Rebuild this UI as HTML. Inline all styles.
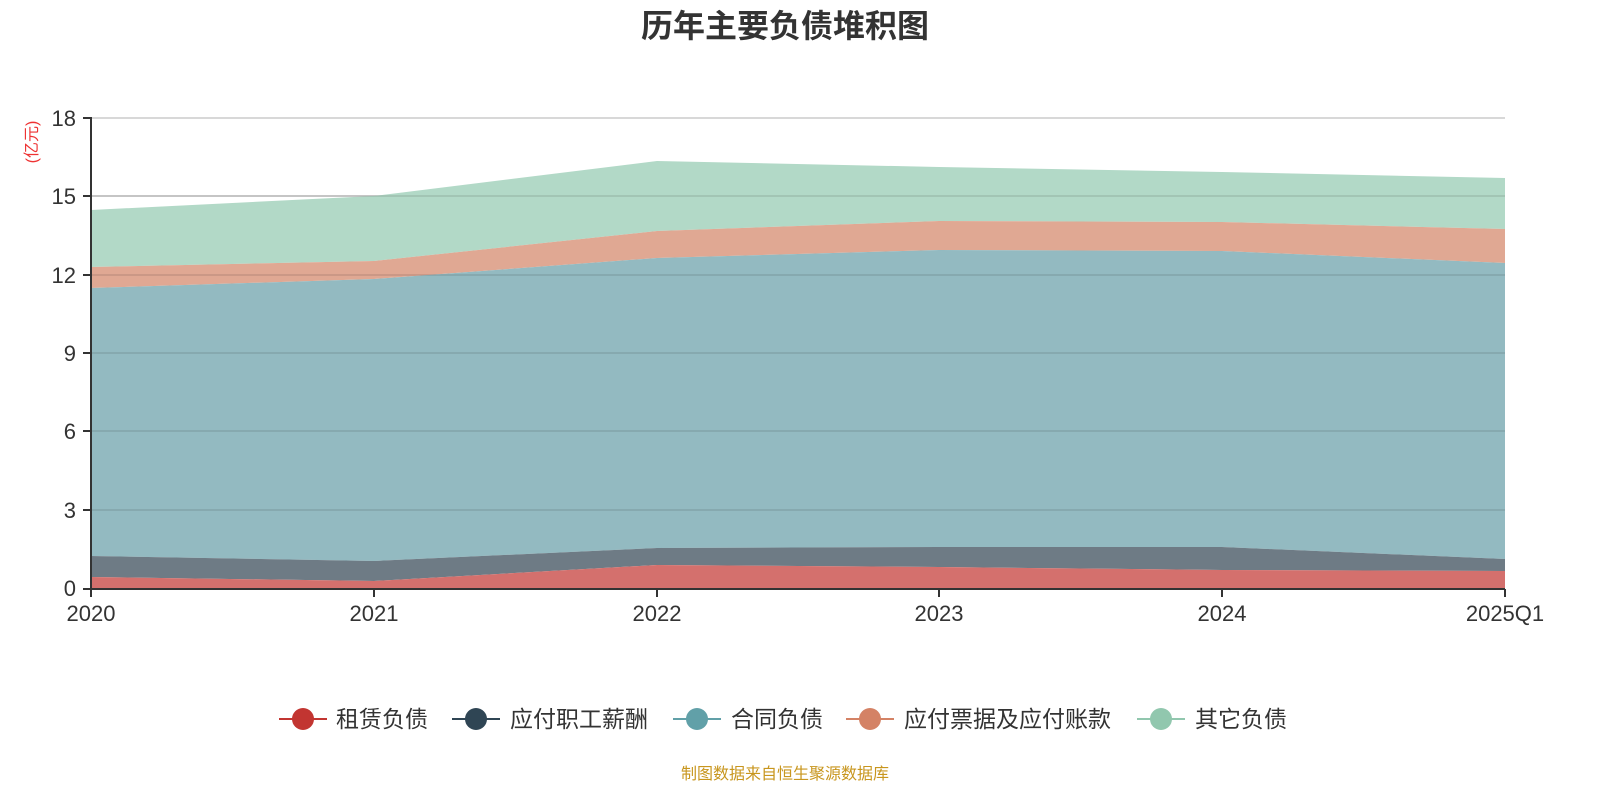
<!DOCTYPE html>
<html><head><meta charset="utf-8"><style>
body{margin:0;background:#fff;overflow:hidden;}
svg{display:block;}
svg text{font-family:"Liberation Sans","Noto Sans CJK SC",sans-serif;}
</style></head><body>
<svg width="1600" height="800" xmlns="http://www.w3.org/2000/svg">
<rect width="1600" height="800" fill="#fff"/>
<text x="785" y="37" text-anchor="middle" font-size="32" font-weight="bold" fill="#333">历年主要负债堆积图</text>
<text transform="translate(37,142) rotate(-90)" text-anchor="middle" font-size="16" fill="#e33">(亿元)</text>
<g stroke="#ccc" stroke-width="1.5">
<line x1="91" y1="118" x2="1505" y2="118"/><line x1="91" y1="196" x2="1505" y2="196"/><line x1="91" y1="275" x2="1505" y2="275"/><line x1="91" y1="353" x2="1505" y2="353"/><line x1="91" y1="431" x2="1505" y2="431"/><line x1="91" y1="510" x2="1505" y2="510"/>
</g>
<polygon fill="#b2d9c7" points="91,210 374,196 657,161 939,167 1222,172 1505,178 1505,229 1222,222 939,221 657,231 374,261 91,267"/>
<polygon fill="#e0a893" points="91,267 374,261 657,231 939,221 1222,222 1505,229 1505,263 1222,251 939,250 657,258 374,279 91,288"/>
<polygon fill="#93bac1" points="91,288 374,279 657,258 939,250 1222,251 1505,263 1505,559 1222,547 939,547 657,548 374,561 91,556"/>
<polygon fill="#6e7b85" points="91,556 374,561 657,548 939,547 1222,547 1505,559 1505,571 1222,570 939,567 657,565 374,581 91,577"/>
<polygon fill="#d4706d" points="91,577 374,581 657,565 939,567 1222,570 1505,571 1505,588 91,588"/>
<g stroke="#000" stroke-opacity="0.12" stroke-width="1.5">
<line x1="91" y1="196" x2="1505" y2="196"/><line x1="91" y1="275" x2="1505" y2="275"/><line x1="91" y1="353" x2="1505" y2="353"/><line x1="91" y1="431" x2="1505" y2="431"/><line x1="91" y1="510" x2="1505" y2="510"/>
</g>
<g stroke="#333" stroke-width="2">
<line x1="91" y1="117" x2="91" y2="589"/><line x1="90" y1="589" x2="1505" y2="589"/>
<line x1="83" y1="118" x2="91" y2="118"/><line x1="83" y1="196" x2="91" y2="196"/><line x1="83" y1="275" x2="91" y2="275"/><line x1="83" y1="353" x2="91" y2="353"/><line x1="83" y1="431" x2="91" y2="431"/><line x1="83" y1="510" x2="91" y2="510"/><line x1="83" y1="589" x2="91" y2="589"/>
<line x1="91" y1="589" x2="91" y2="597"/><line x1="374" y1="589" x2="374" y2="597"/><line x1="657" y1="589" x2="657" y2="597"/><line x1="939" y1="589" x2="939" y2="597"/><line x1="1222" y1="589" x2="1222" y2="597"/><line x1="1505" y1="589" x2="1505" y2="597"/>
</g>
<g font-size="22" fill="#333" text-anchor="end">
<text x="76" y="126">18</text><text x="76" y="204">15</text><text x="76" y="283">12</text><text x="76" y="361">9</text><text x="76" y="439">6</text><text x="76" y="518">3</text><text x="76" y="596">0</text>
</g>
<g font-size="22" fill="#333" text-anchor="middle">
<text x="91" y="621">2020</text><text x="374" y="621">2021</text><text x="657" y="621">2022</text><text x="939" y="621">2023</text><text x="1222" y="621">2024</text><text x="1505" y="621">2025Q1</text>
</g>
<g font-size="23" fill="#333">
<line x1="279" y1="719" x2="327" y2="719" stroke="#c23531" stroke-width="2"/><circle cx="303" cy="719" r="11" fill="#c23531"/><text x="336" y="727">租赁负债</text>
<line x1="452" y1="719" x2="500" y2="719" stroke="#2f4554" stroke-width="2"/><circle cx="476" cy="719" r="11" fill="#2f4554"/><text x="510" y="727">应付职工薪酬</text>
<line x1="673" y1="719" x2="721" y2="719" stroke="#61a0a8" stroke-width="2"/><circle cx="697" cy="719" r="11" fill="#61a0a8"/><text x="731" y="727">合同负债</text>
<line x1="846" y1="719" x2="894" y2="719" stroke="#d48265" stroke-width="2"/><circle cx="870" cy="719" r="11" fill="#d48265"/><text x="904" y="727">应付票据及应付账款</text>
<line x1="1137" y1="719" x2="1185" y2="719" stroke="#91c7ae" stroke-width="2"/><circle cx="1161" cy="719" r="11" fill="#91c7ae"/><text x="1195" y="727">其它负债</text>
</g>
<text x="785" y="779" text-anchor="middle" font-size="16" fill="#c8961e">制图数据来自恒生聚源数据库</text>
</svg>
</body></html>
